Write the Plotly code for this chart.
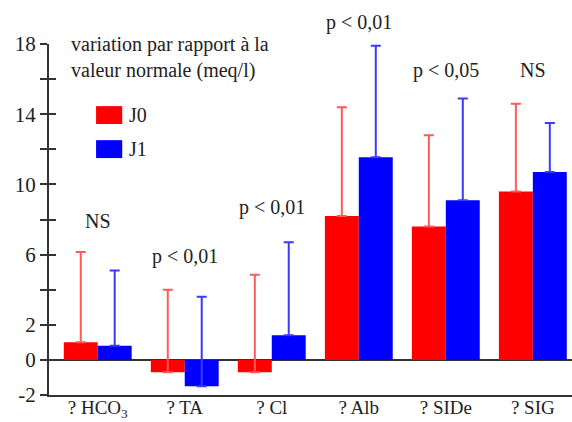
import plotly.graph_objects as go

categories = ["? HCO<sub>3</sub>", "? TA", "? Cl", "? Alb", "? SIDe", "? SIG"]
j0_values = [1.0, -0.7, -0.7, 8.2, 7.6, 9.6]
j1_values = [0.8, -1.5, 1.4, 11.55, 9.1, 10.7]
j0_sd = [5.15, 4.7, 5.55, 6.2, 5.2, 5.0]
j1_sd = [4.3, 5.1, 5.3, 6.35, 5.8, 2.8]
p_labels = ["NS", "p < 0,01", "p < 0,01", "p < 0,01", "p < 0,05", "NS"]
p_label_y = [7.9, 5.9, 8.7, 19.2, 16.5, 16.5]
y_tickvals = [-2, 0, 2, 4, 6, 8, 10, 12, 14, 16, 18]
y_ticktext = ["-2", "0", "2", "", "6", "", "10", "", "14", "", "18"]
Y_MIN, Y_MAX = -2, 18

FONT = "Liberation Serif"
AX = "#333333"

fig = go.Figure()
fig.add_trace(go.Bar(
    x=categories, y=j0_values, name="J0", marker=dict(color="#ff0000", line=dict(width=0)),
    error_y=dict(type="data", array=j0_sd, arrayminus=[0]*6, color="#ff5a5a", thickness=2, width=5),
))
fig.add_trace(go.Bar(
    x=categories, y=j1_values, name="J1", marker=dict(color="#0000ff", line=dict(width=0)),
    error_y=dict(type="data", array=j1_sd, arrayminus=[0]*6, color="#3a3aff", thickness=2, width=5),
))

for c, t, yy in zip(categories, p_labels, p_label_y):
    fig.add_annotation(x=c, yref="paper", y=(yy - Y_MIN) / (Y_MAX - Y_MIN), text=t, showarrow=False,
                       xanchor="center", yanchor="middle",
                       font=dict(family=FONT, size=20, color="#222"))

fig.add_annotation(xref="paper", x=0.038, y=17.25, text="variation par rapport à la<br>valeur normale (meq/l)",
                   showarrow=False, xanchor="left", yanchor="middle", align="left",
                   font=dict(family=FONT, size=20, color="#222"))

# legend drawn as shapes + labels
fig.add_shape(type="rect", xref="paper", yref="paper", x0=0.090, x1=0.140, y0=0.772, y1=0.823,
              fillcolor="#ff0000", line=dict(width=0))
fig.add_shape(type="rect", xref="paper", yref="paper", x0=0.090, x1=0.140, y0=0.675, y1=0.726,
              fillcolor="#0000ff", line=dict(width=0))
fig.add_annotation(xref="paper", yref="paper", x=0.149, y=0.798, text="J0", showarrow=False,
                   xanchor="left", yanchor="middle", font=dict(family=FONT, size=20, color="#222"))
fig.add_annotation(xref="paper", yref="paper", x=0.149, y=0.701, text="J1", showarrow=False,
                   xanchor="left", yanchor="middle", font=dict(family=FONT, size=20, color="#222"))

fig.update_layout(
    width=572, height=422,
    margin=dict(l=49, r=0, t=44, b=27),
    paper_bgcolor="white", plot_bgcolor="white",
    barmode="group", bargap=0.22, bargroupgap=0,
    showlegend=False,
    font=dict(family=FONT, size=20, color="#222"),
    xaxis=dict(range=[-0.56, 5.45], showline=True, linecolor=AX, linewidth=2, ticks="",
               showgrid=False, automargin=False, ticklabelstandoff=-6,
               tickfont=dict(family=FONT, size=19, color="#222")),
    yaxis=dict(range=[Y_MIN, Y_MAX], tickvals=y_tickvals, ticktext=y_ticktext, ticks="outside", ticklen=7,
               tickwidth=2, tickcolor=AX, showline=True, linecolor=AX, linewidth=2, showgrid=False,
               zeroline=True, zerolinecolor=AX, zerolinewidth=2, automargin=False,
               tickfont=dict(family=FONT, size=21, color="#222")),
    yaxis2=dict(range=[Y_MIN, Y_MAX], overlaying="y", side="left", tickvals=y_tickvals, showticklabels=False,
                ticks="inside", ticklen=7, tickwidth=2, tickcolor=AX, showline=False, showgrid=False,
                zeroline=False),
)
fig.add_trace(go.Scatter(x=[categories[0]], y=[None], yaxis="y2", showlegend=False, hoverinfo="skip"))

fig.write_html("out.html")
